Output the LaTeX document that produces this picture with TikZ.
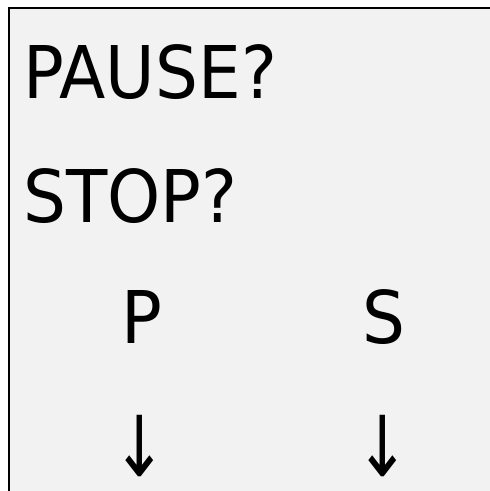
\documentclass[tikz,border=0pt]{standalone}
\usepackage{fontspec}
\newfontfamily\cardfont[FakeStretch=0.93]{DejaVu Sans}
\definecolor{cardgray}{RGB}{242,242,242}
\usetikzlibrary{positioning}

\tikzset{
  card/.style={draw=black,line width=2.5pt,fill=cardgray},
  bigword/.style={inner sep=0pt,anchor=base west,font=\cardfont\fontsize{72.7}{80}\selectfont},
  downarrow/.style={inner sep=0pt,anchor=south,font=\cardfont\fontsize{70}{80}\selectfont}
}

\begin{document}
\begin{tikzpicture}[x=1pt,y=-1pt]
  \useasboundingbox (0,0) rectangle (490,491);
  \clip (0,0) rectangle (490,491);
  \draw[card] (9,8) rectangle (520,520);
  % questions
  \node[bigword] (pause) at (23,98) {PAUSE?};
  \node[bigword] (stop) at (23,222) {STOP?};
  % keys
  \node[bigword] (pkey) at (121,343) {P};
  \node[bigword] (skey) at (362,343) {S};
  \node[downarrow] (parrow) at (140,477) {\scalebox{1}[1.2]{↓}};
  \node[downarrow] (sarrow) at (383,477) {\scalebox{1}[1.2]{↓}};
\end{tikzpicture}
\end{document}
